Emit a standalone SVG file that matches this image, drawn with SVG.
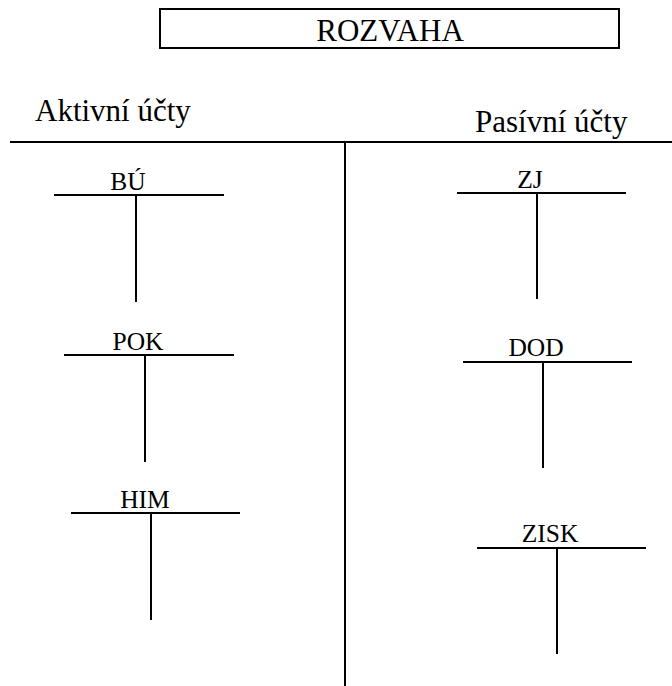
<svg xmlns="http://www.w3.org/2000/svg" width="672" height="686" viewBox="0 0 672 686">
<style>
text{font-family:"Liberation Serif","Times New Roman",serif;fill:#000}
.h{font-size:31px}
.l{font-size:25.5px;text-anchor:middle}
.s{stroke:#000;stroke-width:2;fill:none}
</style>
<rect width="672" height="686" fill="#fff"/>
<g id="title">
<rect class="s" x="160" y="9" width="459" height="39"/>
<text class="h" x="390" y="41" text-anchor="middle">ROZVAHA</text>
</g>
<g id="headers">
<text class="h" x="35" y="121">Aktivní účty</text>
<text class="h" x="475" y="132">Pasívní účty</text>
</g>
<g id="connectors" class="s">
<line x1="10" y1="142" x2="672" y2="142"/>
<line x1="345" y1="142" x2="345" y2="686"/>
</g>
<g id="bu" class="s"><line x1="54" y1="195" x2="224" y2="195"/><line x1="136" y1="195" x2="136" y2="302"/></g>
<text class="l" x="128" y="190">BÚ</text>
<g id="pok" class="s"><line x1="64" y1="355" x2="234" y2="355"/><line x1="145" y1="355" x2="145" y2="462"/></g>
<text class="l" x="138" y="350">POK</text>
<g id="him" class="s"><line x1="71" y1="513" x2="240" y2="513"/><line x1="151" y1="513" x2="151" y2="620"/></g>
<text class="l" x="145" y="508">HIM</text>
<g id="zj" class="s"><line x1="457" y1="193" x2="626" y2="193"/><line x1="537" y1="193" x2="537" y2="299"/></g>
<text class="l" x="530" y="188">ZJ</text>
<g id="dod" class="s"><line x1="463" y1="362" x2="632" y2="362"/><line x1="543" y1="362" x2="543" y2="468"/></g>
<text class="l" x="536" y="356">DOD</text>
<g id="zisk" class="s"><line x1="477" y1="548" x2="646" y2="548"/><line x1="557" y1="548" x2="557" y2="654"/></g>
<text class="l" x="550" y="542">ZISK</text>
</svg>
